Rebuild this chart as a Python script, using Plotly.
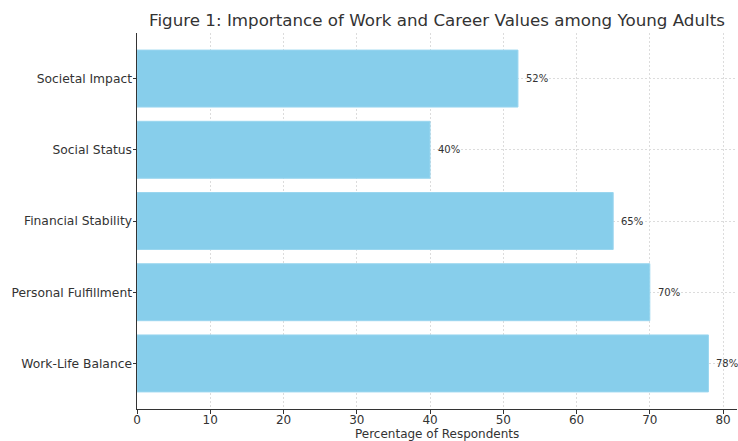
import plotly.graph_objects as go

categories = ["Work-Life Balance", "Personal Fulfillment", "Financial Stability", "Social Status", "Societal Impact"]
values = [78, 70, 65, 40, 52]
value_labels = [f"{v}%" for v in values]
x_ticks = [0, 10, 20, 30, 40, 50, 60, 70, 80]

fig = go.Figure()
fig.add_trace(go.Bar(
    x=values, y=categories, orientation="h",
    marker=dict(color="#87CEEB", line=dict(color="#9ad6ef", width=1)),
    width=0.8, hoverinfo="skip",
))

for c, v, t in zip(categories, values, value_labels):
    fig.add_annotation(x=v, y=c, text=t, xref="x", yref="y", xanchor="left", yanchor="middle",
                       xshift=6, showarrow=False,
                       font=dict(family="DejaVu Sans", size=10, color="#333333"))

fig.add_annotation(text="Percentage of Respondents", xref="paper", yref="paper", x=0.5, y=-0.066,
                   xanchor="center", yanchor="middle", showarrow=False,
                   font=dict(family="DejaVu Sans", size=12, color="#333333"))

fig.update_layout(
    width=738, height=441,
    margin=dict(l=137, r=1, t=33, b=32),
    paper_bgcolor="white", plot_bgcolor="white",
    showlegend=False,
    font=dict(family="DejaVu Sans", color="#333333"),
    title=dict(text="Figure 1: Importance of Work and Career Values among Young Adults",
               x=0.5, xref="paper", y=1 - 20 / 441, yref="container",
               xanchor="center", yanchor="middle",
               font=dict(family="DejaVu Sans", size=16.7, color="#333333")),
    xaxis=dict(range=[0, 81.9], tickvals=x_ticks, ticktext=[str(t) for t in x_ticks],
               showgrid=True, gridcolor="#dcdcdc", gridwidth=0.7, griddash="2px,2px",
               showline=True, linecolor="#333333", linewidth=1,
               ticks="outside", ticklen=3.5, tickcolor="#333333", tickwidth=1,
               ticklabelstandoff=-4,
               tickfont=dict(family="DejaVu Sans", size=12, color="#333333"),
               zeroline=False, layer="above traces", fixedrange=True),
    yaxis=dict(range=[-0.64, 4.64], categoryorder="array", categoryarray=categories,
               showgrid=True, gridcolor="#dcdcdc", gridwidth=0.7, griddash="2px,2px",
               showline=True, linecolor="#333333", linewidth=1,
               ticks="outside", ticklen=3.5, tickcolor="#333333", tickwidth=1,
               ticklabelstandoff=-2,
               tickfont=dict(family="DejaVu Sans", size=12.3, color="#333333"),
               zeroline=False, layer="above traces", fixedrange=True),
)

fig.write_html("out.html")
